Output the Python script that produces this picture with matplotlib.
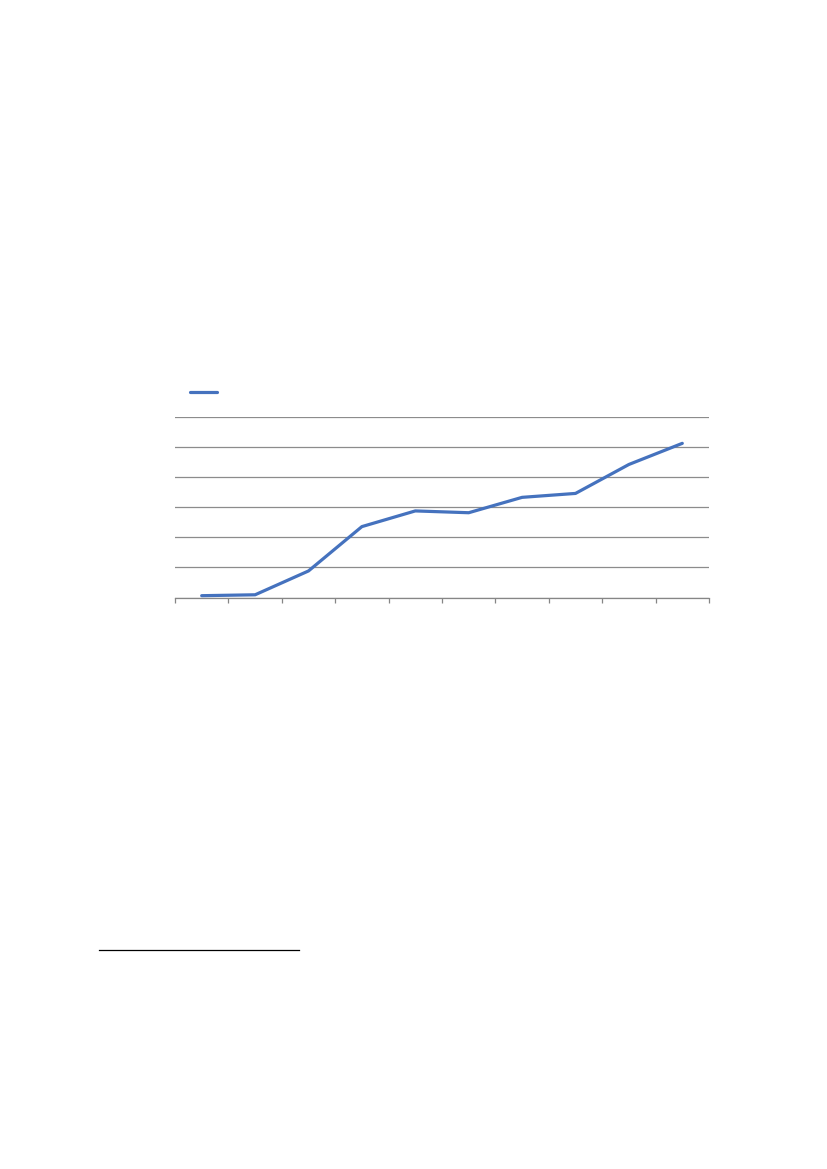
import matplotlib
matplotlib.use("Agg")
import matplotlib.pyplot as plt
from matplotlib.lines import Line2D
import numpy as np

# Data (no labels are visible in the reference)
categories = list(range(1, 11))
values = [0.06, 0.09, 0.88, 2.35, 2.87, 2.81, 3.32, 3.45, 4.41, 5.11]
y_ticks = [0, 1, 2, 3, 4, 5, 6]

W, H = 827, 1169
fig = plt.figure(figsize=(W / 100, H / 100), dpi=100)

x0, x1 = 175, 709
ytop, ybot = 416.5, 597.5
ax = fig.add_axes([x0 / W, 1 - ybot / H, (x1 - x0) / W, (ybot - ytop) / H])

ax.plot(categories, values, color="#4572BE", lw=2.3, solid_capstyle="round",
        solid_joinstyle="round", zorder=3)

ax.set_xlim(0.5, 10.5)
ax.set_ylim(0, 6)
ax.set_yticks(y_ticks)
ax.set_xticks(np.arange(0.5, 11, 1.0))
ax.set_xticklabels([])
ax.set_yticklabels([])
ax.tick_params(axis="y", length=0)
ax.tick_params(axis="x", direction="out", length=3.5, width=0.9, color="#868686")
ax.grid(axis="y", color="#8c8c8c", lw=0.9)
ax.set_axisbelow(True)
for s in ["left", "right", "top"]:
    ax.spines[s].set_visible(False)
ax.spines["bottom"].set_color("#868686")
ax.spines["bottom"].set_linewidth(0.9)

# Legend key (no text visible)
fig.add_artist(Line2D([190 / W, 217 / W], [1 - 391.5 / H, 1 - 391.5 / H],
                      color="#4572BE", lw=2.3, solid_capstyle="round"))

# Footnote separator line
fig.add_artist(Line2D([98.5 / W, 298.5 / W], [1 - 950.3 / H, 1 - 950.3 / H],
                      color="black", lw=0.9))

fig.savefig("out.png", dpi=100)
